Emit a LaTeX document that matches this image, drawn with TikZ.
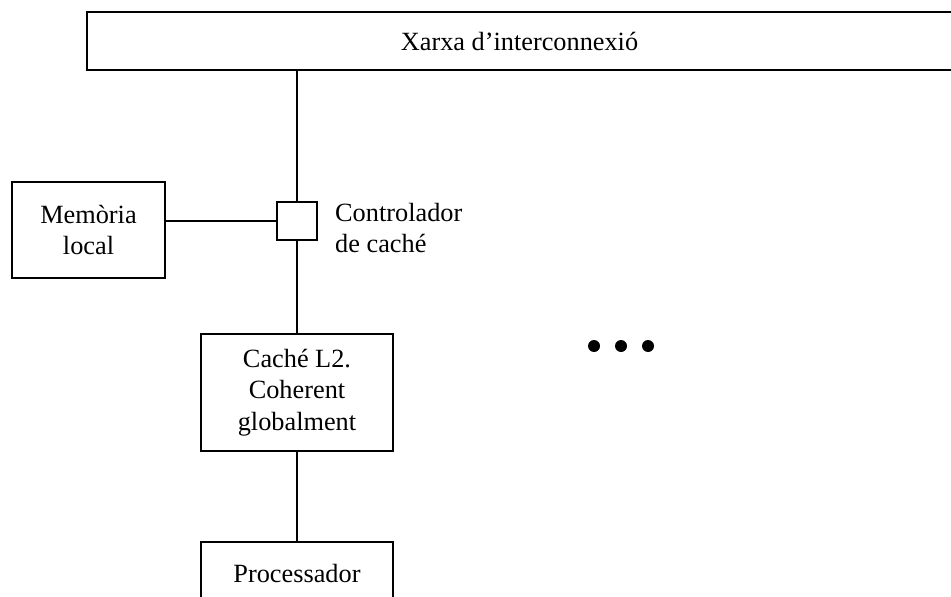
\documentclass[tikz,border=0pt]{standalone}
\usepackage{fontspec}
\setmainfont{Liberation Serif}
\begin{document}
\begin{tikzpicture}[x=1pt, y=-1pt,
  every node/.style={font=\fontsize{26.3}{31.5}\selectfont, inner sep=0pt},
  unitbox/.style={draw, line width=1.6pt, align=center},
  link/.style={line width=1.6pt},
  dot/.style={fill=black}]
  \useasboundingbox (0,0) rectangle (951,597);

  % interconnection network
  \node[unitbox, minimum width=865pt, minimum height=58pt] (net) at (519.5,41) {Xarxa d’interconnexió};

  % local memory, cache controller and cache
  \node[unitbox, minimum width=153pt, minimum height=96pt] (mem) at (88.5,230) {Memòria\\local};
  \node[unitbox, minimum width=40pt, minimum height=38pt] (ctl) at (297,221) {};
  \node[anchor=west, align=left] (ctllbl) at (335,228) {Controlador\\de caché};
  \node[unitbox, minimum width=192pt, minimum height=117pt] (l2) at (297,392.5) {Caché L2.\\Coherent\\globalment};
  \node[unitbox, minimum width=192pt, minimum height=62pt] (cpu) at (297,573) {Processador};

  % connections
  \draw[link] (ctl.north) -- (ctl.north |- net.south);
  \draw[link] (ctl.west) -- (ctl.west -| mem.east);
  \draw[link] (ctl.south) -- (l2.north);
  \draw[link] (l2.south) -- (cpu.north);

  % further nodes
  \fill[dot] (594,346) circle (6);
  \fill[dot] (621,346) circle (6);
  \fill[dot] (648,346) circle (6);
\end{tikzpicture}
\end{document}
